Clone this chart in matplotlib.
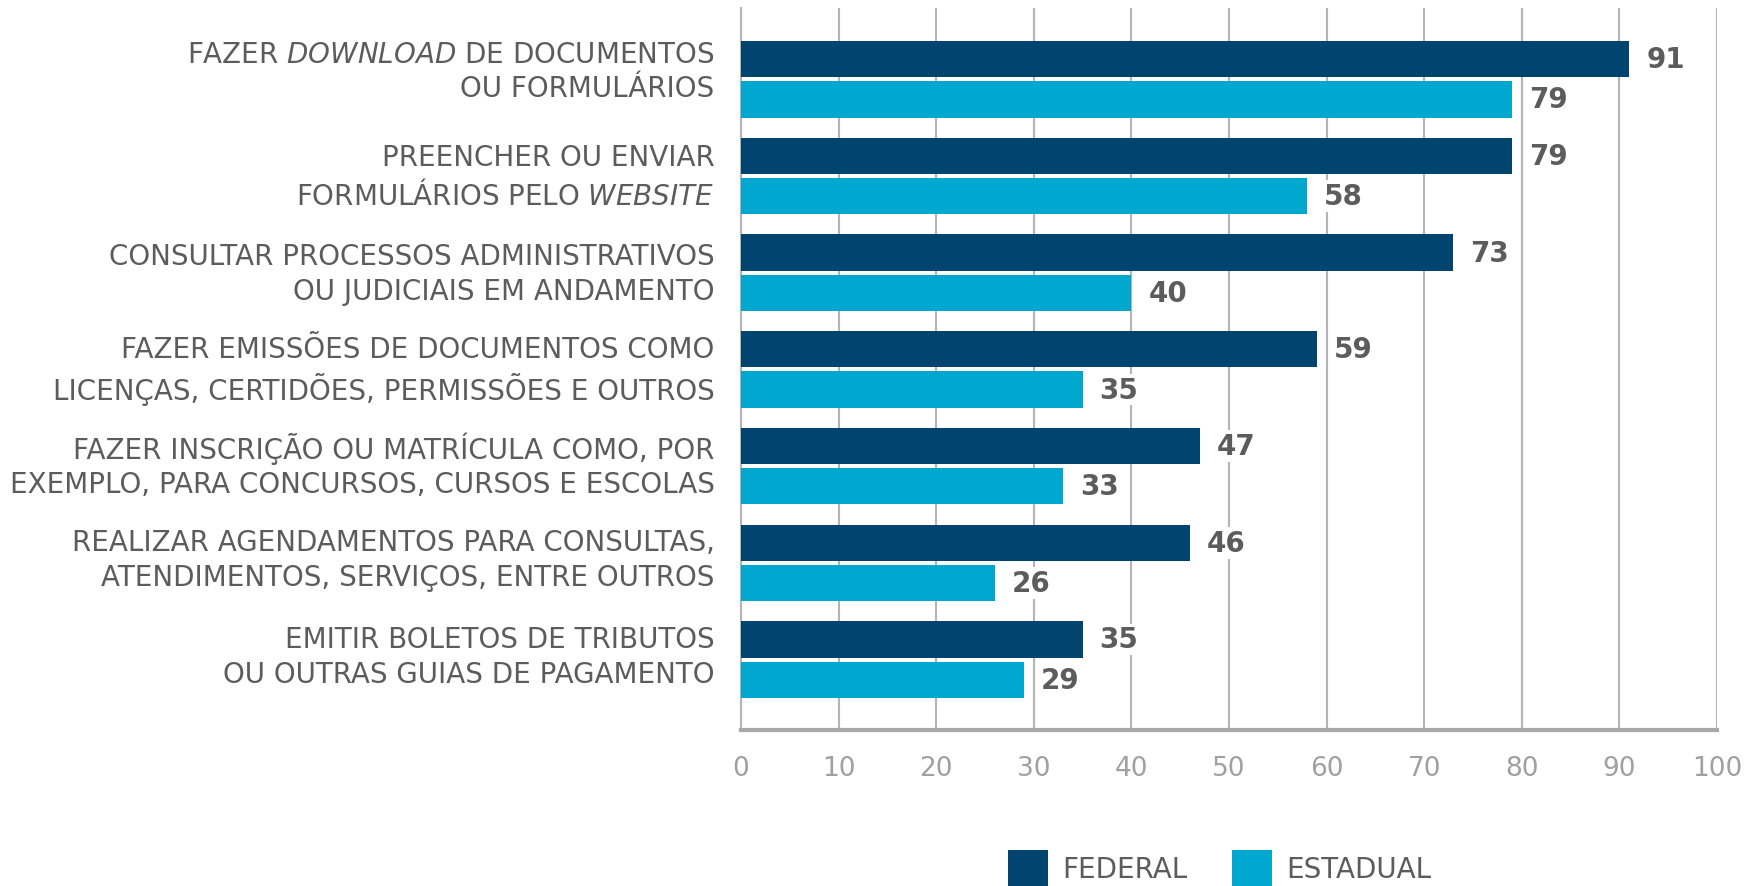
import numpy as np
import matplotlib
matplotlib.use('Agg')
import matplotlib.pyplot as plt
import matplotlib.transforms as mtransforms
from matplotlib.patches import Patch

plt.rcParams['font.family'] = ['DejaVu Sans']
plt.rcParams['mathtext.fontset'] = 'custom'
plt.rcParams['mathtext.rm'] = 'DejaVu Sans'
plt.rcParams['mathtext.it'] = 'DejaVu Sans:italic'

# ============================================================
# Data
categories = [
    'FAZER $\\it{DOWNLOAD}$ DE DOCUMENTOS\nOU FORMULÁRIOS',
    'PREENCHER OU ENVIAR\nFORMULÁRIOS PELO $\\it{WEBSITE}$',
    'CONSULTAR PROCESSOS ADMINISTRATIVOS\nOU JUDICIAIS EM ANDAMENTO',
    'FAZER EMISSÕES DE DOCUMENTOS COMO\nLICENÇAS, CERTIDÕES, PERMISSÕES E OUTROS',
    'FAZER INSCRIÇÃO OU MATRÍCULA COMO, POR\nEXEMPLO, PARA CONCURSOS, CURSOS E ESCOLAS',
    'REALIZAR AGENDAMENTOS PARA CONSULTAS,\nATENDIMENTOS, SERVIÇOS, ENTRE OUTROS',
    'EMITIR BOLETOS DE TRIBUTOS\nOU OUTRAS GUIAS DE PAGAMENTO',
]
federal = [91, 79, 73, 59, 47, 46, 35]
estadual = [79, 58, 40, 35, 33, 26, 29]
series_names = ['FEDERAL', 'ESTADUAL']
xticks = list(range(0, 101, 10))

C_FED = '#00446F'
C_EST = '#00A8CF'
TXT = '#5c5c5c'
GRID = '#b4b4b4'

# vertical nudge of each category label, in pixels (negative = up)
label_nudge = [-14.5, -6, -5.5, -6.5, -7.5, -9.5, -9.5]

# ============================================================
fig = plt.figure(figsize=(17.5, 8.87), dpi=100)
ax = fig.add_axes([0.4234, 0.176, 0.5577, 0.814])

y = np.arange(len(categories))
off = 0.208
h = 0.375
ax.barh(y - off, federal, height=h, color=C_FED, zorder=3)
ax.barh(y + off, estadual, height=h, color=C_EST, zorder=3)

for yi, v in zip(y - off, federal):
    ax.text(v + 1.75, yi, str(v), va='center', ha='left', fontsize=20,
            fontweight='bold', color=TXT, zorder=4,
            bbox=dict(facecolor='white', edgecolor='none', pad=1.5))
for yi, v in zip(y + off, estadual):
    ax.text(v + 1.75, yi, str(v), va='center', ha='left', fontsize=20,
            fontweight='bold', color=TXT, zorder=4,
            bbox=dict(facecolor='white', edgecolor='none', pad=1.5))

ax.set_xlim(0, 100)
ax.set_ylim(len(categories) - 1 + 0.727, -0.738)
ax.set_xticks(xticks)
ax.set_xticklabels([str(t) for t in xticks], fontsize=19, color='#a0a0a0')
ax.set_yticks(y)
ax.set_yticklabels(categories, fontsize=20, color=TXT, ha='right',
                   multialignment='right', linespacing=1.3)
ax.tick_params(axis='both', length=0)
ax.tick_params(axis='x', pad=18)
ax.tick_params(axis='y', pad=19)

for lbl, dy in zip(ax.get_yticklabels(), label_nudge):
    shift = mtransforms.ScaledTranslation(0, -dy / 100.0, fig.dpi_scale_trans)
    lbl.set_transform(lbl.get_transform() + shift)

ax.grid(axis='x', color=GRID, linewidth=1.5, zorder=0)
ax.set_axisbelow(True)
for s in ['top', 'right']:
    ax.spines[s].set_visible(False)
ax.spines['left'].set_color(GRID)
ax.spines['left'].set_linewidth(1.5)
ax.spines['bottom'].set_color('#a8a8a8')
ax.spines['bottom'].set_linewidth(3)

handles = [Patch(facecolor=C_FED, label=series_names[0]),
           Patch(facecolor=C_EST, label=series_names[1])]
fig.legend(handles=handles, loc='center', bbox_to_anchor=(0.697, 0.02),
           ncol=2, frameon=False, fontsize=20, handlelength=1.45,
           handleheight=1.7, handletextpad=0.5, columnspacing=1.6,
           labelcolor=TXT)

plt.savefig('out.png', dpi=100)
plt.close()
